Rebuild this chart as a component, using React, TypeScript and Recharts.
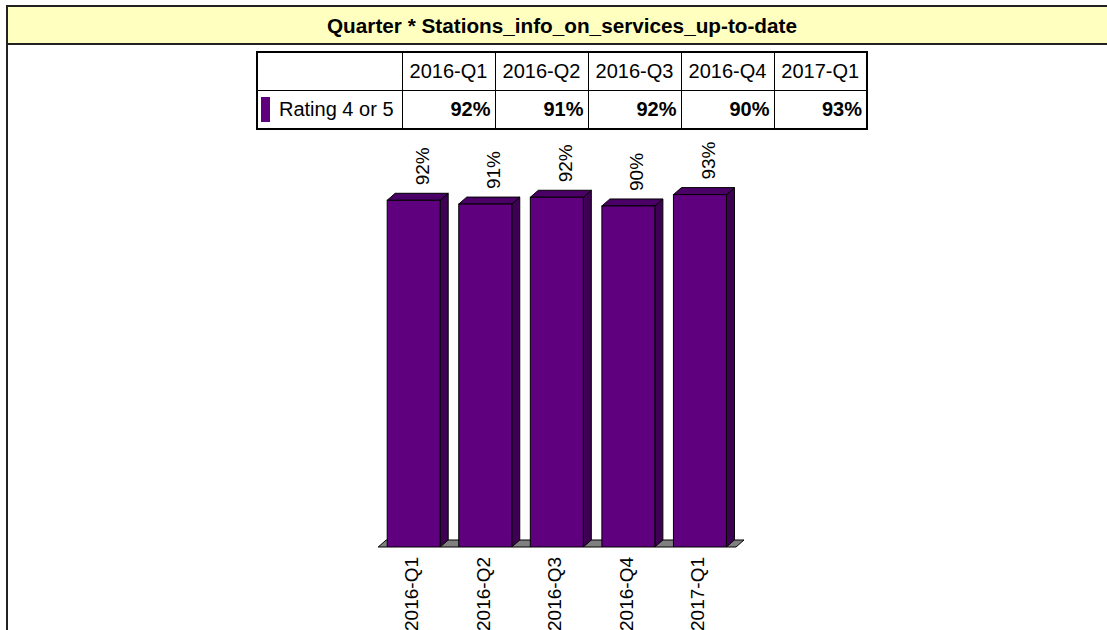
import React from 'react';
import { BarChart, Bar, XAxis, YAxis, LabelList, ReferenceArea } from 'recharts';

const chartTitle = 'Quarter * Stations_info_on_services_up-to-date';
const quarters = ['2016-Q1', '2016-Q2', '2016-Q3', '2016-Q4', '2017-Q1'];
const seriesName = 'Rating 4 or 5';
const ratingValues = [91.6, 90.6, 92.4, 90.1, 93.1];

const data = quarters.map((q, i) => ({ quarter: q, rating: ratingValues[i] }));
const pct = (v: number) => `${Math.round(v)}%`;

const FONT = '"Liberation Sans", Arial, sans-serif';
const DX = 8;
const DY = 7;

const Bar3D = (props: any) => {
  const { x, y, width: w, height: h } = props;
  if (w == null || h == null) return null;
  return (
    <g>
      <polygon
        points={`${x + w},${y} ${x + w + DX},${y - DY} ${x + w + DX},${y + h - DY} ${x + w},${y + h}`}
        fill="#3d0052"
        stroke="#000"
        strokeWidth={1}
      />
      <polygon
        points={`${x},${y} ${x + DX},${y - DY} ${x + w + DX},${y - DY} ${x + w},${y}`}
        fill="#4a0066"
        stroke="#000"
        strokeWidth={1}
      />
      <rect x={x} y={y} width={w} height={h} fill="#5f007f" stroke="#000" strokeWidth={1} />
    </g>
  );
};

const Floor = (props: any) => {
  const { x, y, width, height } = props;
  const b = y + height;
  return (
    <polygon
      points={`${x},${b} ${x + DX},${b - DY} ${x + width + DX},${b - DY} ${x + width},${b}`}
      fill="#808080"
      stroke="#000"
      strokeWidth={1}
    />
  );
};

const ValueLabel = (props: any) => {
  const { x, y, width, value } = props;
  const px = x + width / 2 + 15;
  const py = y - 15;
  return (
    <text
      x={px}
      y={py}
      transform={`rotate(-90, ${px}, ${py})`}
      textAnchor="start"
      fontFamily={FONT}
      fontSize={19}
      fill="#000"
    >
      {pct(value)}
    </text>
  );
};

const QuarterTick = (props: any) => {
  const { x, y, payload } = props;
  const px = x + 4;
  const py = y + 2;
  return (
    <text
      x={px}
      y={py}
      transform={`rotate(-90, ${px}, ${py})`}
      textAnchor="end"
      fontFamily={FONT}
      fontSize={19}
      fill="#000"
    >
      {payload.value}
    </text>
  );
};

const cellBase: React.CSSProperties = {
  border: '1px solid #000',
  padding: 0,
  fontFamily: FONT,
  fontSize: 20,
  color: '#000',
  height: 37,
};

export default function App() {
  return (
    <div style={{ position: 'fixed', left: 0, top: 0, width: 1107, height: 630, background: '#fff', overflow: 'hidden' }}>
      <svg width={1107} height={630} style={{ position: 'absolute', left: 0, top: 0 }}>
        <rect x={7} y={6} width={1115} height={38} fill="#FFFFC0" stroke="#222" strokeWidth={2} />
        <line x1={7} y1={45} x2={7} y2={630} stroke="#222" strokeWidth={2} />
        <text
          x={562}
          y={33}
          textAnchor="middle"
          fontFamily={FONT}
          fontWeight="bold"
          fontSize={20}
          textLength={470}
          lengthAdjust="spacingAndGlyphs"
          fill="#000"
        >
          {chartTitle}
        </text>
      </svg>

      <table
        style={{
          position: 'absolute',
          left: 256,
          top: 51,
          width: 610,
          borderCollapse: 'collapse',
          border: '2px solid #000',
          tableLayout: 'fixed',
        }}
      >
        <colgroup>
          <col style={{ width: 145 }} />
          {quarters.map((q) => (
            <col key={q} style={{ width: 93 }} />
          ))}
        </colgroup>
        <tbody>
          <tr>
            <td style={cellBase}></td>
            {quarters.map((q) => (
              <td key={q} style={{ ...cellBase, textAlign: 'center' }}>
                {q}
              </td>
            ))}
          </tr>
          <tr>
            <td style={{ ...cellBase, whiteSpace: 'nowrap' }}>
              <span
                style={{
                  display: 'inline-block',
                  width: 9,
                  height: 25,
                  background: '#5f007f',
                  verticalAlign: 'middle',
                  marginLeft: 3,
                  marginRight: 9,
                }}
              />
              <span style={{ verticalAlign: 'middle' }}>{seriesName}</span>
            </td>
            {ratingValues.map((v, i) => (
              <td key={i} style={{ ...cellBase, textAlign: 'right', fontWeight: 'bold', paddingRight: 4 }}>
                {pct(v)}
              </td>
            ))}
          </tr>
        </tbody>
      </table>

      <div style={{ position: 'absolute', left: 0, top: 0 }}>
        <BarChart
          width={1107}
          height={630}
          data={data}
          margin={{ top: 168.5, right: 371, bottom: 23, left: 378.2 }}
        >
          <XAxis
            dataKey="quarter"
            height={60}
            axisLine={false}
            tickLine={false}
            interval={0}
            tick={<QuarterTick />}
          />
          <YAxis hide domain={[0, 100]} allowDataOverflow />
          <ReferenceArea y1={0} y2={1} shape={<Floor />} ifOverflow="visible" zIndex={-1} />
          <Bar dataKey="rating" name={seriesName} barSize={53} shape={<Bar3D />} isAnimationActive={false}>
            <LabelList dataKey="rating" content={<ValueLabel />} />
          </Bar>
        </BarChart>
      </div>
    </div>
  );
}
